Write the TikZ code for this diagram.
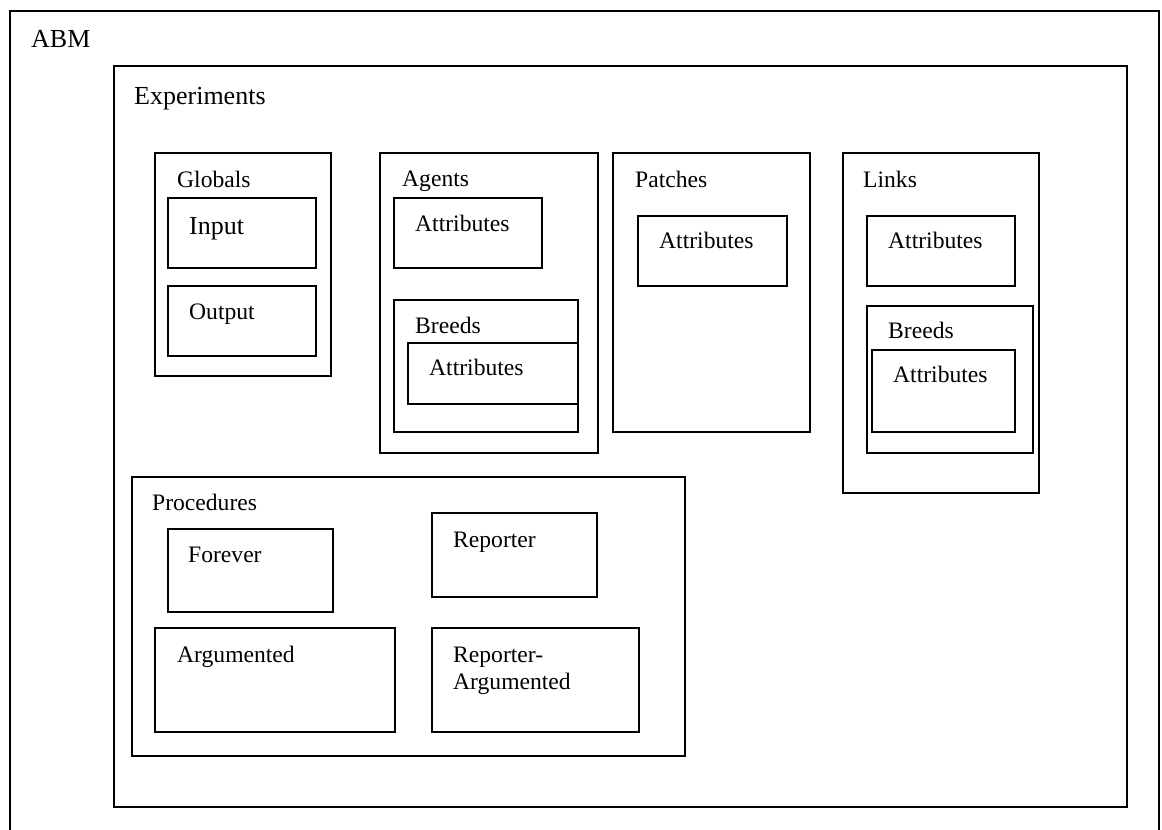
\documentclass[tikz,border=0pt]{standalone}
\usepackage{fontspec}
\setmainfont{Liberation Serif}
\begin{document}
\begin{tikzpicture}[x=1pt,y=-1pt,
  boxline/.style={draw=black,line width=1.6pt},
  lbl/.style={anchor=base west,inner sep=0pt,font=\fontsize{23.6}{27.5}\selectfont},
  biglbl/.style={anchor=base west,inner sep=0pt,font=\fontsize{26}{30}\selectfont},
  twolbl/.style={anchor=north west,inner sep=0pt,align=left,font=\fontsize{23.6}{27.5}\selectfont}]
\useasboundingbox (0,0) rectangle (1162,830);
\clip (0,0) rectangle (1162,830);
\fill[white] (0,0) rectangle (1162,830);
% ABM
\draw[boxline] (10,11) rectangle (1159,850);
\node[biglbl] (abm) at (31,47) {ABM};
% Experiments
\draw[boxline] (114,66) rectangle (1127,807);
\node[biglbl] (exp) at (134,104) {Experiments};
% Globals
\draw[boxline] (155,153) rectangle (331,376);
\node[lbl] (glob) at (177,187) {Globals};
\draw[boxline] (168,198) rectangle (316,268);
\node[biglbl] (inp) at (189,234) {Input};
\draw[boxline] (168,286) rectangle (316,356);
\node[lbl] (outp) at (189,319) {Output};
% Agents
\draw[boxline] (380,153) rectangle (598,453);
\node[lbl] (agents) at (402,186) {Agents};
\draw[boxline] (394,198) rectangle (542,268);
\node[lbl] (agattr) at (415,231) {Attributes};
\draw[boxline] (394,300) rectangle (578,432);
\node[lbl] (agbreeds) at (415,333) {Breeds};
\draw[boxline] (408,343) rectangle (578,404);
\node[lbl] (agbattr) at (429,375) {Attributes};
% Patches
\draw[boxline] (613,153) rectangle (810,432);
\node[lbl] (patches) at (635,187) {Patches};
\draw[boxline] (638,216) rectangle (787,286);
\node[lbl] (pattr) at (659,248) {Attributes};
% Links
\draw[boxline] (843,153) rectangle (1039,493);
\node[lbl] (links) at (863,187) {Links};
\draw[boxline] (867,216) rectangle (1015,286);
\node[lbl] (lattr) at (888,248) {Attributes};
\draw[boxline] (867,306) rectangle (1033,453);
\node[lbl] (lbreeds) at (888,338) {Breeds};
\draw[boxline] (872,350) rectangle (1015,432);
\node[lbl] (lbattr) at (893,382) {Attributes};
% Procedures
\draw[boxline] (132,477) rectangle (685,756);
\node[lbl] (proc) at (152,510) {Procedures};
\draw[boxline] (168,529) rectangle (333,612);
\node[lbl] (forever) at (188,562) {Forever};
\draw[boxline] (432,513) rectangle (597,597);
\node[lbl] (reporter) at (453,547) {Reporter};
\draw[boxline] (155,628) rectangle (395,732);
\node[lbl] (argu) at (177,662) {Argumented};
\draw[boxline] (432,628) rectangle (639,732);
\node[lbl] (repargu1) at (453,662) {Reporter-};
\node[lbl] (repargu2) at (453,689) {Argumented};
\end{tikzpicture}
\end{document}
